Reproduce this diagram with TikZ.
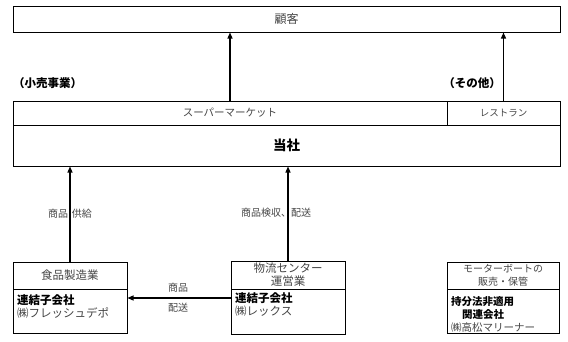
\documentclass[tikz,border=0pt]{standalone}
\usepackage{fontspec}
\setmainfont{Noto Sans CJK JP}
\usetikzlibrary{arrows.meta,positioning}
\definecolor{InkGray}{HTML}{444444}
\newcommand{\fsz}[1]{\fontsize{#1}{13}\selectfont}

\begin{document}
\begin{tikzpicture}[x=1pt,y=-1pt,
    every node/.style={inner sep=1pt},
    box/.style={draw=black, line width=1pt, inner sep=0pt, align=center},
    thin text/.style={text=InkGray, font=\fsz{10.5}},
    arr/.style={-{Triangle[length=6pt,width=5pt]}, line width=1.2pt, black}]
    \useasboundingbox (0,0) rectangle (568,341);

    % top rows
    \node[box, minimum width=547pt, minimum height=26pt, thin text, font=\fsz{12}] (customer) at (286.5,19) {顧客};
    \node[box, minimum width=434pt, minimum height=24pt, thin text, font=\fsz{10.5}] (super) at (230,113) {スーパーマーケット};
    \node[box, minimum width=113pt, minimum height=24pt, thin text, font=\fsz{9.5}] (restaurant) at (503.5,113) {レストラン};
    \node[box, minimum width=547pt, minimum height=41pt, font=\fsz{13.5}\bfseries] (tosha) at (286.5,145.5) {当社};

    \node[anchor=west, font=\fsz{11.5}\bfseries] (retail) at (12,83) {（小売事業）};
    \node[anchor=east, font=\fsz{11.5}\bfseries] (other) at (502,83) {（その他）};

    % bottom boxes
    \node[box, minimum width=114pt, minimum height=27pt, thin text, font=\fsz{11.5}] (food) at (70,275.5) {食品製造業};
    \node[box, minimum width=114pt, minimum height=44pt] (foodbody) at (70,311) {};
    \node[anchor=west, font=\fsz{11.5}\bfseries] (foodkind) at (16,300) {連結子会社};
    \node[anchor=west, thin text, font=\fsz{11.5}] (foodname) at (16,313) {㈱フレッシュデポ};

    \node[box, minimum width=114pt, minimum height=28pt, thin text, font=\fsz{11.5}] (logi) at (288,275) {物流センター\\運営業};
    \node[box, minimum width=114pt, minimum height=45pt] (logibody) at (288,311.5) {};
    \node[anchor=west, font=\fsz{11.5}\bfseries] (logikind) at (234,298) {連結子会社};
    \node[anchor=west, thin text, font=\fsz{11.5}] (loginame) at (234,311) {㈱レックス};

    \node[box, minimum width=112pt, minimum height=27pt, thin text, font=\fsz{10}] (boat) at (503,275.5) {モーターボートの\\販売・保管};
    \node[box, minimum width=112pt, minimum height=44pt] (boatbody) at (503,311) {};
    \node[anchor=west, font=\fsz{10.5}\bfseries] (boatkind) at (450,302) {持分法非適用};
    \node[anchor=west, font=\fsz{10.5}\bfseries] (boatkind2) at (461,315) {関連会社};
    \node[anchor=west, thin text, font=\fsz{10.5}] (boatname) at (450,327.5) {㈱高松マリーナー};

    % flow labels
    \node[thin text, font=\fsz{10}] (supplylbl) at (70,214) {商品\hspace{4pt}供給};
    \node[thin text, font=\fsz{10}] (inspectlbl) at (276,213) {商品検収、配送};
    \node[thin text, font=\fsz{10}] (goodslbl) at (178,288) {商品};
    \node[thin text, font=\fsz{10}] (deliverlbl) at (178,308) {配送};

    \draw[arr] (super.north) -- (super.north |- customer.south);
    \draw[arr] (restaurant.north) -- (restaurant.north |- customer.south);
    \draw[arr] (food.north) -- (food.north |- tosha.south);
    \draw[arr] (logi.north) -- (logi.north |- tosha.south);
    \draw[arr] (logibody.west |- logikind) -- (foodbody.east |- logikind);
  \end{tikzpicture}
\end{document}
